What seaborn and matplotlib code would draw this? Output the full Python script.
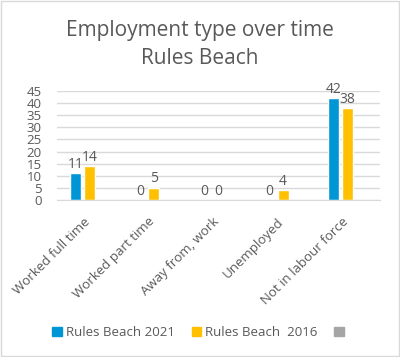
import matplotlib
matplotlib.use("Agg")
import matplotlib.pyplot as plt
import matplotlib.transforms as mtransforms
import seaborn as sns
import pandas as pd
import numpy as np
from matplotlib.patches import Rectangle, Patch

categories = ["Worked full time", "Worked part time", "Away from, work", "Unemployed", "Not in labour force"]
series_names = ["Rules Beach 2021", "Rules Beach  2016", ""]
values_2021 = [11, 0, 0, 0, 42]
values_2016 = [14, 5, 0, 4, 38]
values_blank = [np.nan] * 5
yticks = [0, 5, 10, 15, 20, 25, 30, 35, 40, 45]
colors = ["#0096D6", "#FFC000", "#A5A5A5"]

rows = []
for s, vals in zip(series_names, [values_2021, values_2016, values_blank]):
    for c, v in zip(categories, vals):
        rows.append({"cat": c, "series": s, "val": v})
df = pd.DataFrame(rows)

sns.set_style("white")
plt.rcParams['font.family'] = ['Open Sans', 'DejaVu Sans']
txt = "#595959"

fig = plt.figure(figsize=(4.0, 3.57), dpi=100)
ax = fig.add_axes([0.1425, 0.4398, 0.8075, 0.3052])
sns.barplot(data=df, x="cat", y="val", hue="series", hue_order=series_names,
            order=categories, palette=colors, width=0.65, gap=0.2,
            legend=False, ax=ax, saturation=1, errorbar=None)

for cont in ax.containers:
    labels = []
    for p in cont:
        h = p.get_height()
        labels.append("" if np.isnan(h) else f"{int(round(h))}")
    ax.bar_label(cont, labels=labels, padding=1, fontsize=10, color=txt)

ax.set_ylim(0, 45)
ax.set_yticks(yticks)
ax.set_yticklabels([str(t) for t in yticks], fontsize=9.5, color=txt)
ax.grid(axis="y", color="#D9D9D9", linewidth=1)
ax.set_axisbelow(True)
for sp in ["top", "right", "left"]:
    ax.spines[sp].set_visible(False)
ax.spines["bottom"].set_color("#D9D9D9")
ax.tick_params(axis="y", length=0, pad=11)
ax.tick_params(axis="x", length=0, pad=8)
ax.set_xticks(range(len(categories)))
ax.set_xticklabels(categories, rotation=45, ha="right", rotation_mode="anchor",
                   fontsize=9.5, color=txt)
offset = mtransforms.ScaledTranslation(-6 / 100, -4 / 100, fig.dpi_scale_trans)
for lbl in ax.get_xticklabels():
    lbl.set_transform(lbl.get_transform() + offset)
ax.set_xlabel("")
ax.set_ylabel("")

fig.text(0.5, 0.915, "Employment type over time", ha="center", va="center", fontsize=15, color=txt)
fig.text(0.5, 0.835, "Rules Beach", ha="center", va="center", fontsize=15, color=txt)

handles = [Patch(color=c) for c in colors]
fig.legend(handles, series_names, loc="center", bbox_to_anchor=(0.5, 0.068), ncol=3,
           frameon=False, fontsize=9.5, labelcolor=txt, handlelength=0.7, handleheight=0.7,
           handletextpad=0.3, columnspacing=1.3)

fig.patches.append(Rectangle((0.002, 0.002), 0.996, 0.996, transform=fig.transFigure,
                             fill=False, edgecolor="#D9D9D9", linewidth=1))
fig.savefig("out.png", dpi=100, facecolor="white")
